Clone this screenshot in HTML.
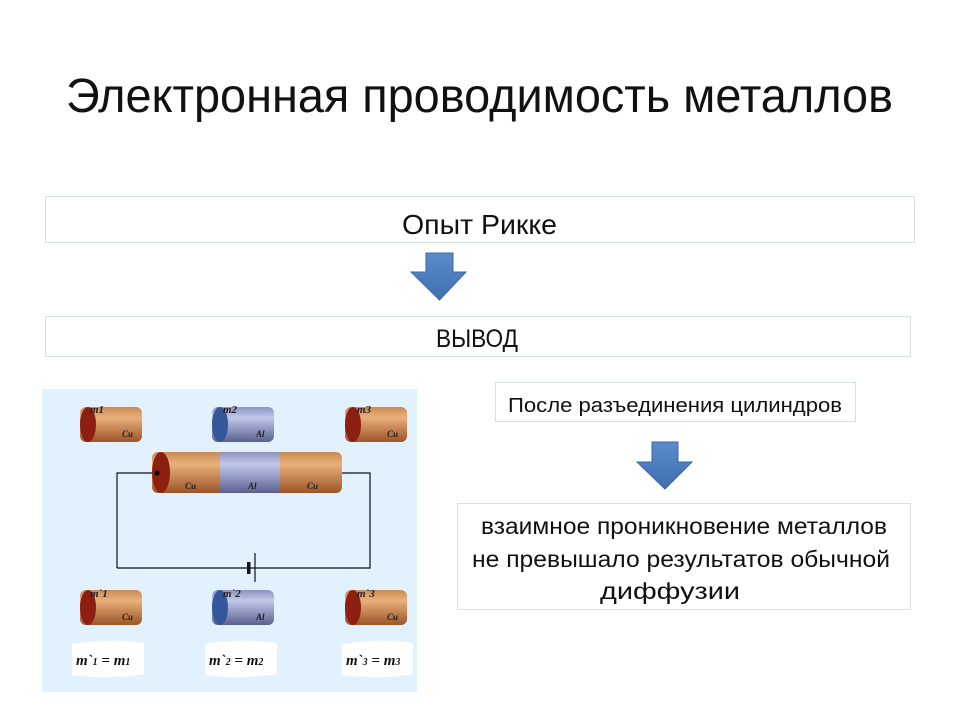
<!DOCTYPE html>
<html><head><meta charset="utf-8"><style>html,body{margin:0;padding:0;background:#fff}svg{display:block}</style></head>
<body>
<svg width="960" height="720" viewBox="0 0 960 720" xmlns="http://www.w3.org/2000/svg" font-family="Liberation Sans, sans-serif">
<defs>
<linearGradient id="cu" x1="0" y1="0" x2="0" y2="1"><stop offset="0" stop-color="#c98a55"/><stop offset="0.3" stop-color="#eab07a"/><stop offset="1" stop-color="#9c5428"/></linearGradient>
<linearGradient id="al" x1="0" y1="0" x2="0" y2="1"><stop offset="0" stop-color="#8c93bd"/><stop offset="0.3" stop-color="#c2c8ea"/><stop offset="1" stop-color="#5a6190"/></linearGradient>
<linearGradient id="ar" x1="0" y1="0" x2="0" y2="1"><stop offset="0" stop-color="#5b8bcb"/><stop offset="1" stop-color="#3f6fb0"/></linearGradient>
<g id="cuC"><rect x="0" y="0" width="62" height="35" rx="6" fill="url(#cu)"/><ellipse cx="8" cy="17.5" rx="8" ry="17.5" fill="#8c1f10"/><text x="42" y="30" font-size="9" font-style="italic" font-weight="bold" font-family="Liberation Serif, serif" fill="#222">Cu</text></g>
<g id="alC"><rect x="0" y="0" width="62" height="35" rx="6" fill="url(#al)"/><ellipse cx="8" cy="17.5" rx="8" ry="17.5" fill="#34579b"/><text x="44" y="30" font-size="9" font-style="italic" font-weight="bold" font-family="Liberation Serif, serif" fill="#222">Al</text></g>
</defs>
<text x="66" y="112" font-size="48" textLength="827" lengthAdjust="spacingAndGlyphs" fill="#111">Электронная проводимость металлов</text>
<rect x="45.5" y="196.5" width="869" height="46" fill="#fff" stroke="#d4dfe6"/>
<text x="402" y="234" font-size="28" textLength="155" lengthAdjust="spacingAndGlyphs" fill="#111">Опыт Рикке</text>
<path d="M426 253H453V272H466L439.5 300L411 272H426Z" fill="url(#ar)" stroke="#3c67a5"/>
<rect x="45.5" y="316.5" width="865" height="40" fill="#fff" stroke="#d4dfe6"/>
<text x="436" y="347" font-size="25" textLength="82" lengthAdjust="spacingAndGlyphs" fill="#111">ВЫВОД</text>
<rect x="495.5" y="382.5" width="360" height="39" fill="#fff" stroke="#d4dfe6"/>
<text x="508" y="412" font-size="20" textLength="334" lengthAdjust="spacingAndGlyphs" fill="#111">После разъединения цилиндров</text>
<path d="M652 442H678V462H692L665 489L637 462H652Z" fill="url(#ar)" stroke="#3c67a5"/>
<rect x="457.5" y="503.5" width="453" height="106" fill="#fff" stroke="#d4dfe6"/>
<text x="481" y="534" font-size="23" textLength="406" lengthAdjust="spacingAndGlyphs" fill="#111">взаимное проникновение металлов</text>
<text x="472" y="567" font-size="23" textLength="418" lengthAdjust="spacingAndGlyphs" fill="#111">не превышало результатов обычной</text>
<text x="600" y="599" font-size="23" textLength="140" lengthAdjust="spacingAndGlyphs" fill="#111">диффузии</text>
<rect x="42" y="389" width="375" height="303" fill="#e1f1fd"/>
<use href="#cuC" x="80" y="407"/><use href="#alC" x="212" y="407"/><use href="#cuC" x="345" y="407"/>
<use href="#cuC" x="80" y="590"/><use href="#alC" x="212" y="590"/><use href="#cuC" x="345" y="590"/>
<g font-family="Liberation Serif, serif" font-style="italic" font-weight="bold" font-size="11" fill="#222">
<text x="90" y="413">m1</text><text x="223" y="413">m2</text><text x="357" y="413">m3</text>
<text x="90" y="597">m`1</text><text x="223" y="597">m`2</text><text x="357" y="597">m`3</text>
</g>
<path d="M117 568V473H157M342 473H370V568H117" fill="none" stroke="#111" stroke-width="1.2"/>
<rect x="247" y="562" width="3.5" height="12" fill="#111"/>
<line x1="255" y1="553" x2="255" y2="582" stroke="#111" stroke-width="1.2"/>
<rect x="152" y="452" width="190" height="41" rx="6" fill="url(#cu)"/>
<rect x="220" y="452" width="60" height="41" fill="url(#al)"/>
<ellipse cx="161" cy="472.5" rx="9" ry="20.5" fill="#8c1f10"/>
<circle cx="157" cy="473" r="2.5" fill="#000"/>
<g font-family="Liberation Serif, serif" font-style="italic" font-weight="bold" font-size="9" fill="#222">
<text x="185" y="489">Cu</text><text x="248" y="489">Al</text><text x="307" y="489">Cu</text></g>
<g fill="#fff"><path d="M72 644Q110 638 144 643V674Q110 680 72 675Z"/><path d="M205 644Q240 638 277 643V674Q240 680 205 675Z"/><path d="M342 644Q380 638 413 643V674Q380 680 342 675Z"/></g>
<g font-family="Liberation Serif, serif" font-style="italic" font-weight="bold" font-size="15" fill="#111">
<text x="76" y="665">m`<tspan font-size="10">1</tspan> = m<tspan font-size="10">1</tspan></text>
<text x="209" y="665">m`<tspan font-size="10">2</tspan> = m<tspan font-size="10">2</tspan></text>
<text x="346" y="665">m`<tspan font-size="10">3</tspan> = m<tspan font-size="10">3</tspan></text></g>
</svg>
</body></html>
